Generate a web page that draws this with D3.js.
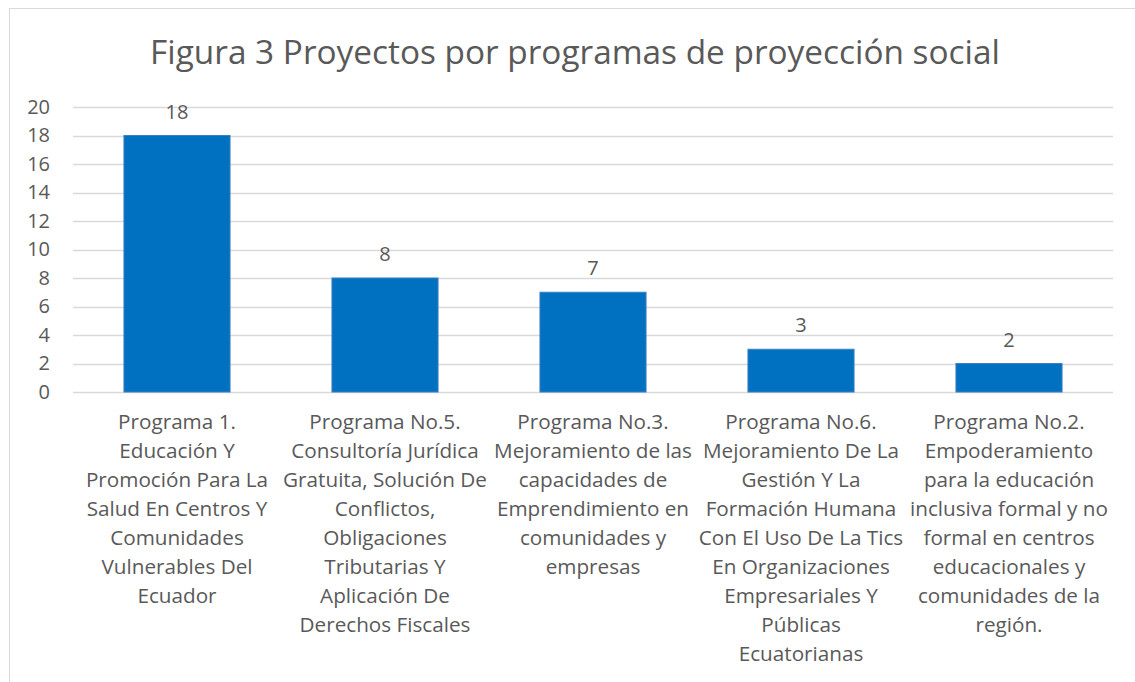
<!DOCTYPE html>
<html>
<head>
<meta charset="utf-8">
<script src="https://cdn.jsdelivr.net/npm/d3@7"></script>
<style>
  body { margin: 0; background: #fff; }
  svg { display: block; font-family: "Open Sans", sans-serif; }
</style>
</head>
<body>
<svg id="chart" width="1135" height="682"></svg>
<script>
// chart data
const categories = [
    ["Programa 1.", "Educación Y", "Promoción Para La", "Salud En Centros Y", "Comunidades", "Vulnerables Del", "Ecuador"],
    ["Programa No.5.", "Consultoría Jurídica", "Gratuita, Solución De", "Conflictos,", "Obligaciones", "Tributarias Y", "Aplicación De", "Derechos Fiscales"],
    ["Programa No.3.", "Mejoramiento de las", "capacidades de", "Emprendimiento en", "comunidades y", "empresas"],
    ["Programa No.6.", "Mejoramiento De La", "Gestión Y La", "Formación Humana", "Con El Uso De La Tics", "En Organizaciones", "Empresariales Y", "Públicas", "Ecuatorianas"],
    ["Programa No.2.", "Empoderamiento", "para la educación", "inclusiva formal y no", "formal en centros", "educacionales y", "comunidades de la", "región."]
];
const values = [18, 8, 7, 3, 2];
const yTicks = [0, 2, 4, 6, 8, 10, 12, 14, 16, 18, 20];
const title = "Figura 3 Proyectos por programas de proyección social";

const width = 1135, height = 682;
const margin = { left: 73, right: 22, top: 107, bottom: 290 };
const textColor = "#595959";

let svg = d3.select("#chart");

// outer chart frame
svg.append("rect")
    .attr("x", 9.5).attr("y", 8.5)
    .attr("width", 1140).attr("height", 700)
    .attr("fill", "none")
    .attr("stroke", "#D9D9D9");

let titleText = svg.append("text")
    .attr("x", 575).attr("y", 64)
    .attr("text-anchor", "middle")
    .attr("font-size", 32)
    .attr("fill", textColor)
    .text(title);
// the original title runs about 850px wide
let tw = titleText.node().getComputedTextLength();
titleText.attr("font-size", 32 * 850 / tw);

let x = d3.scaleBand()
    .domain(d3.range(values.length))
    .range([margin.left, width - margin.right])
    .paddingInner(0.49)
    .paddingOuter(0.245);

let y = d3.scaleLinear()
    .domain([0, 20])
    .range([height - margin.bottom, margin.top]);

// gridlines
svg.append("g")
    .selectAll("line")
    .data(yTicks)
    .join("line")
    .attr("x1", margin.left).attr("x2", width - margin.right)
    .attr("y1", d => Math.round(y(d)) + 0.5).attr("y2", d => Math.round(y(d)) + 0.5)
    .attr("stroke", "#D9D9D9")
    .attr("stroke-width", 1.5);

// y axis labels
let yAxis = g => g
    .attr("transform", `translate(${margin.left}, 0)`)
    .call(d3.axisLeft(y).tickValues(yTicks).tickSize(0).tickPadding(23))
    .call(g => g.select(".domain").remove())
    .call(g => g.selectAll("text")
        .attr("fill", textColor)
        .attr("font-size", 20)
        .attr("font-family", "'Open Sans', sans-serif"));
svg.append("g").call(yAxis);

// bars
svg.append("g")
    .selectAll("rect")
    .data(values)
    .join("rect")
    .attr("x", (d, i) => x(i))
    .attr("y", d => y(d))
    .attr("width", x.bandwidth())
    .attr("height", d => y(0) - y(d))
    .attr("fill", "#0070C0")
    .attr("stroke", "#3C7FC4")
    .attr("stroke-width", 1);

// value labels
svg.append("g")
    .selectAll("text")
    .data(values)
    .join("text")
    .attr("x", (d, i) => x(i) + x.bandwidth() / 2)
    .attr("y", d => y(d) - 17)
    .attr("text-anchor", "middle")
    .attr("font-size", 20)
    .attr("fill", textColor)
    .text(d => d);

// category labels, wrapped as in the original
let catG = svg.append("g")
    .selectAll("text")
    .data(categories)
    .join("text")
    .attr("text-anchor", "middle")
    .attr("font-size", 20.7)
    .attr("fill", textColor);

catG.selectAll("tspan")
    .data((lines, i) => lines.map(l => ({ l, i })))
    .join("tspan")
    .attr("x", d => x(d.i) + x.bandwidth() / 2)
    .attr("y", (d, j) => 429 + j * 29)
    .text(d => d.l);
</script>
</body>
</html>
